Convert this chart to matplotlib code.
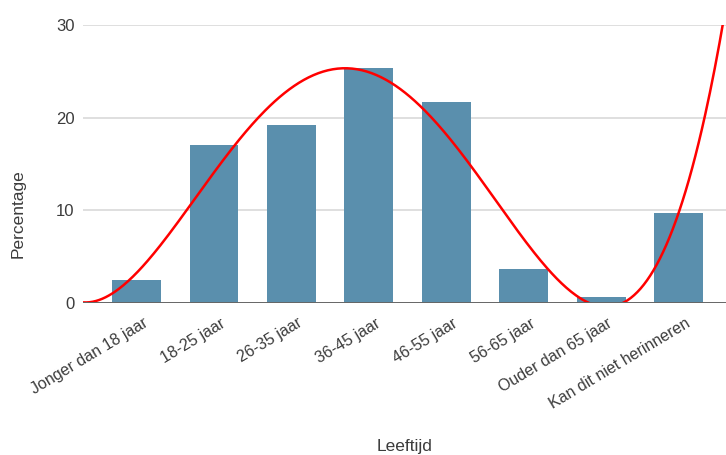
import matplotlib

matplotlib.use("Agg")
import matplotlib.pyplot as plt
import matplotlib.transforms as mtransforms
import numpy as np

plt.rcParams["font.family"] = ["Liberation Sans", "DejaVu Sans"]

categories = [
    "Jonger dan 18 jaar",
    "18-25 jaar",
    "26-35 jaar",
    "36-45 jaar",
    "46-55 jaar",
    "56-65 jaar",
    "Ouder dan 65 jaar",
    "Kan dit niet herinneren",
]
percentages = [2.5, 17.1, 19.2, 25.4, 21.7, 3.7, 0.6, 9.7]
y_ticks = [0, 10, 20, 30]

BAR = "#5a8fad"
TREND = "#ff0000"
INK = "#3c3c3c"

fig = plt.figure(figsize=(7.26, 4.55), dpi=100)
ax = fig.add_axes([83 / 726, 1 - 303 / 455, (726 - 83) / 726, (303 - 25) / 455])

x = np.arange(len(categories))
ax.bar(x, percentages, width=0.63, color=BAR, zorder=2)

# polynomial trendline (degree 4) fitted on the bars, like the sheet does
coef = np.polyfit(x, percentages, 4)
xs = np.linspace(-0.69, 7.61, 400)
ax.plot(xs, np.polyval(coef, xs), color=TREND, lw=1.8, zorder=3, solid_capstyle="round")

ax.set_xlim(-0.69, 7.61)
ax.set_ylim(0, 30)
ax.set_yticks(y_ticks)
ax.set_yticklabels([str(t) for t in y_ticks], fontsize=12, color=INK)
ax.yaxis.grid(True, color="#d9d9d9", lw=1.2, zorder=0)
ax.axhline(0, color="#666666", lw=1.4, zorder=4)
for s in ax.spines.values():
    s.set_visible(False)
ax.tick_params(axis="y", length=0, pad=6)
ax.tick_params(axis="x", length=0, pad=9)

ax.set_xticks(x)
ax.set_xticklabels(categories, rotation=31, ha="right", va="top",
                   rotation_mode="anchor", fontsize=11.5, color=INK)
shift = mtransforms.ScaledTranslation(6 / 100, 0, fig.dpi_scale_trans)
for lab in ax.get_xticklabels():
    lab.set_transform(lab.get_transform() + shift)

fig.text(18 / 726, 1 - 214 / 455, "Percentage", rotation=90, ha="center", va="center",
         fontsize=12.5, color=INK)
fig.text(405 / 726, 1 - 447 / 455, "Leeftijd", ha="center", va="center",
         fontsize=12.5, color=INK)

fig.savefig("out.png", dpi=100)
